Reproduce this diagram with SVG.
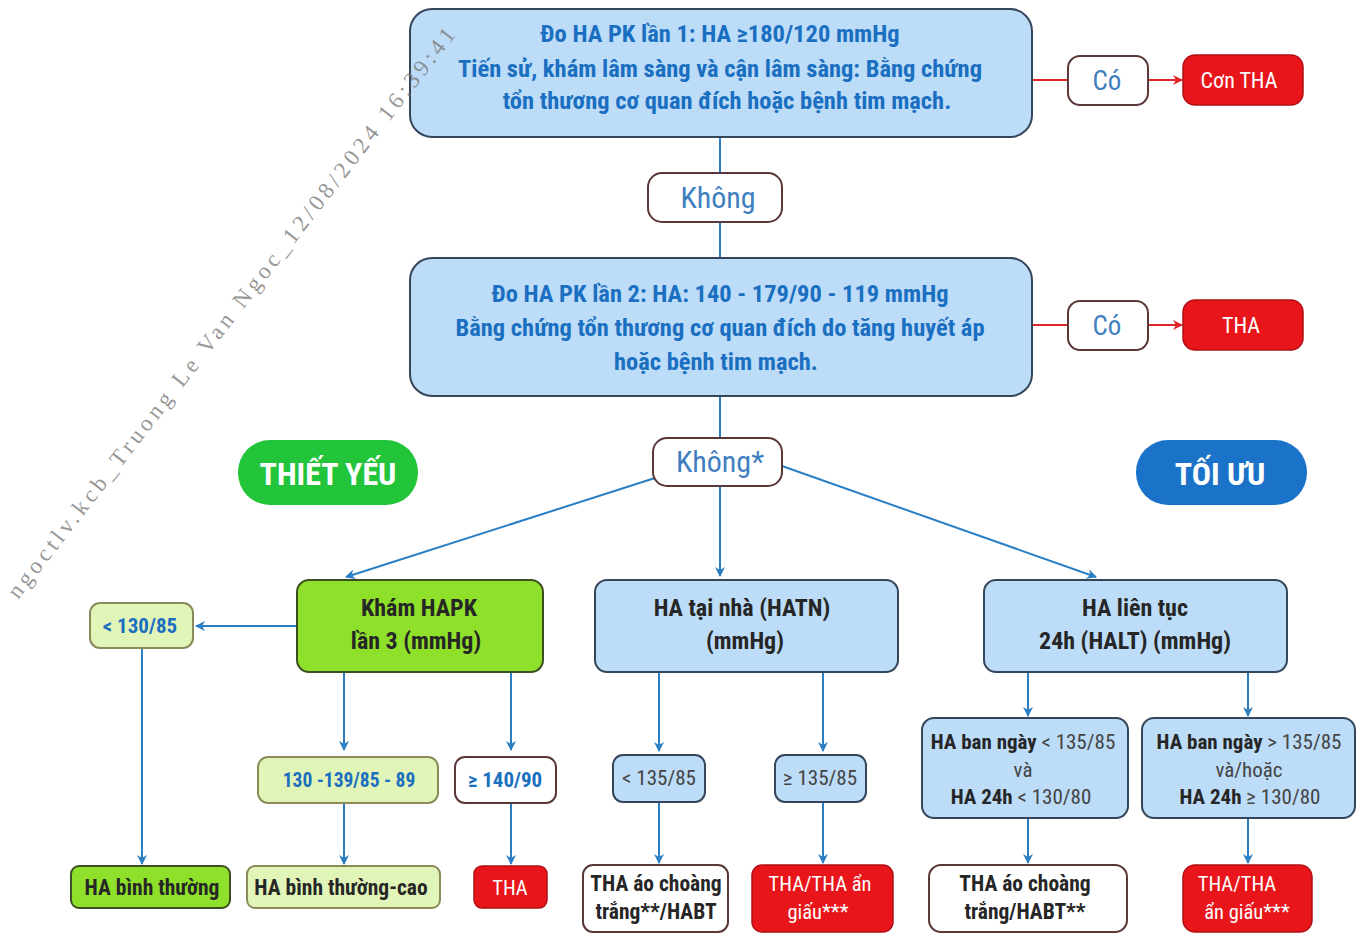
<svg xmlns="http://www.w3.org/2000/svg" width="1364" height="937" viewBox="0 0 1364 937">
<style>
text{font-family:"Liberation Sans Narrow","Roboto Condensed","DejaVu Sans Condensed","Liberation Sans",sans-serif;text-anchor:middle}
.bx{fill:#bcdcf8;stroke:#34465a;stroke-width:2}
.lg{fill:#8ee02a;stroke:#3d4f22;stroke-width:2}
.ly{fill:#e2f5b8;stroke:#8a8a5a;stroke-width:2}
.wh{fill:#fff;stroke:#5a3838;stroke-width:2}
.rd{fill:#e8151b;stroke:#b01015;stroke-width:1.5}
.tb{fill:#1a6fc0;font-weight:bold;font-size:24.5px}
.tbs{fill:#1a6fc0;font-weight:bold;font-size:21px}
.td{fill:#262626;font-weight:bold;font-size:24px}
.tds{fill:#262626;font-weight:bold;font-size:21.5px}
.tw{fill:#fff;font-size:22px}
.tws{fill:#fff;font-size:20.5px}
.tl{fill:#3f7fbf;font-size:30px}
.tc{fill:#3f7fbf;font-size:27px}
.tg{fill:#444;font-size:21px}
.cb{stroke:#2a7fc4;stroke-width:2;fill:none}
.cr{stroke:#e0262b;stroke-width:2;fill:none}
.wm{font-family:"Liberation Serif",serif;text-anchor:start;font-size:23px;fill:#7a7a7a;fill-opacity:0.8}
</style>
<defs>
<marker id="ab" viewBox="0 0 10 10" refX="9" refY="5" markerWidth="10" markerHeight="10" markerUnits="userSpaceOnUse" orient="auto"><path d="M0,0 L10,5 L0,10 L3,5 z" fill="#2a7fc4"/></marker>
<marker id="ar" viewBox="0 0 10 10" refX="9" refY="5" markerWidth="10" markerHeight="10" markerUnits="userSpaceOnUse" orient="auto"><path d="M0,0 L10,5 L0,10 L3,5 z" fill="#e0262b"/></marker>
</defs>
<rect width="1364" height="937" fill="#fff"/>

<g id="connectors">
<path class="cb" d="M720,137 V172"/>
<path class="cb" d="M720,222 V258"/>
<path class="cb" d="M720,396 V437"/>
<path class="cb" d="M720,486 V576" marker-end="url(#ab)"/>
<path class="cb" d="M655,478 L346,577" marker-end="url(#ab)"/>
<path class="cb" d="M782,466 L1096,577" marker-end="url(#ab)"/>
<path class="cr" d="M1032,80 H1068"/>
<path class="cr" d="M1148,80 H1182" marker-end="url(#ar)"/>
<path class="cr" d="M1032,325 H1068"/>
<path class="cr" d="M1148,325 H1182" marker-end="url(#ar)"/>
<path class="cb" d="M297,626 H196" marker-end="url(#ab)"/>
<path class="cb" d="M142,648 V864" marker-end="url(#ab)"/>
<path class="cb" d="M344,672 V750" marker-end="url(#ab)"/>
<path class="cb" d="M511,672 V750" marker-end="url(#ab)"/>
<path class="cb" d="M344,803 V864" marker-end="url(#ab)"/>
<path class="cb" d="M511,803 V864" marker-end="url(#ab)"/>
<path class="cb" d="M659,672 V751" marker-end="url(#ab)"/>
<path class="cb" d="M823,672 V751" marker-end="url(#ab)"/>
<path class="cb" d="M659,802 V863" marker-end="url(#ab)"/>
<path class="cb" d="M823,802 V863" marker-end="url(#ab)"/>
<path class="cb" d="M1028,672 V716" marker-end="url(#ab)"/>
<path class="cb" d="M1248,672 V716" marker-end="url(#ab)"/>
<path class="cb" d="M1028,818 V863" marker-end="url(#ab)"/>
<path class="cb" d="M1248,818 V863" marker-end="url(#ab)"/>
</g>

<g id="n-do1">
<rect class="bx" x="410" y="9" width="622" height="128" rx="22"/>
<text class="tb" x="720" y="42">Đo HA PK lần 1: HA ≥180/120 mmHg</text>
<text class="tb" x="720" y="77">Tiến sử, khám lâm sàng và cận lâm sàng: Bằng chứng</text>
<text class="tb" x="727" y="109">tổn thương cơ quan đích hoặc bệnh tim mạch.</text>
</g>
<g id="n-co1"><rect class="wh" x="1068" y="56" width="80" height="49" rx="12"/><text class="tc" x="1107" y="90">Có</text></g>
<g id="n-conTHA"><rect class="rd" x="1183" y="55" width="120" height="50" rx="12"/><text class="tw" x="1239" y="88">Cơn THA</text></g>

<g id="n-khong1"><rect class="wh" x="648" y="173" width="134" height="49" rx="14"/><text class="tl" x="718" y="208">Không</text></g>

<g id="n-do2">
<rect class="bx" x="410" y="258" width="622" height="138" rx="22"/>
<text class="tb" x="720" y="302">Đo HA PK lần 2: HA: 140 - 179/90 - 119 mmHg</text>
<text class="tb" x="720" y="336">Bằng chứng tổn thương cơ quan đích do tăng huyết áp</text>
<text class="tb" x="716" y="370">hoặc bệnh tim mạch.</text>
</g>
<g id="n-co2"><rect class="wh" x="1068" y="301" width="80" height="49" rx="12"/><text class="tc" x="1107" y="335">Có</text></g>
<g id="n-THA1"><rect class="rd" x="1183" y="300" width="120" height="50" rx="12"/><text class="tw" x="1241" y="333">THA</text></g>

<g id="n-khong2"><rect class="wh" x="653" y="438" width="129" height="48" rx="14"/><text class="tl" x="720" y="472">Không*</text></g>

<g id="n-thietyeu"><rect x="238" y="440" width="180" height="65" rx="32" fill="#22c43a"/><text x="328" y="485" fill="#fff" font-weight="bold" font-size="32">THIẾT YẾU</text></g>
<g id="n-toiuu"><rect x="1136" y="440" width="171" height="65" rx="32" fill="#1a73c8"/><text x="1220" y="485" fill="#fff" font-weight="bold" font-size="32">TỐI ƯU</text></g>

<g id="n-kham3">
<rect class="lg" x="297" y="580" width="246" height="92" rx="12"/>
<text class="td" x="419" y="616">Khám HAPK</text>
<text class="td" x="416" y="649">lần 3 (mmHg)</text>
</g>
<g id="n-lt130"><rect class="ly" x="90" y="603" width="103" height="45" rx="10"/><text class="tbs" x="140" y="633">&lt; 130/85</text></g>
<g id="n-130139"><rect class="ly" x="258" y="757" width="180" height="46" rx="10"/><text class="tbs" x="349" y="787" style="font-size:19.5px">130 -139/85 - 89</text></g>
<g id="n-ge140"><rect class="wh" x="455" y="757" width="101" height="46" rx="10"/><text class="tbs" x="505" y="787">≥ 140/90</text></g>
<g id="n-habt"><rect class="lg" x="71" y="866" width="159" height="42" rx="8"/><text class="tds" x="152" y="895">HA bình thường</text></g>
<g id="n-hacao"><rect class="ly" x="247" y="866" width="193" height="42" rx="8"/><text class="tds" x="341" y="895">HA bình thường-cao</text></g>
<g id="n-THA2"><rect class="rd" x="474" y="866" width="73" height="42" rx="8"/><text class="tws" x="510" y="895">THA</text></g>

<g id="n-hatn">
<rect class="bx" x="595" y="580" width="303" height="92" rx="12"/>
<text class="td" x="742" y="616">HA tại nhà (HATN)</text>
<text class="td" x="745" y="649">(mmHg)</text>
</g>
<g id="n-lt135"><rect class="bx" x="613" y="755" width="92" height="47" rx="10"/><text class="tg" x="659" y="785">&lt; 135/85</text></g>
<g id="n-ge135"><rect class="bx" x="775" y="755" width="91" height="47" rx="10"/><text class="tg" x="820" y="785">≥ 135/85</text></g>
<g id="n-aochoang1"><rect class="wh" x="583" y="865" width="145" height="67" rx="10"/><text class="tds" x="656" y="891">THA áo choàng</text><text class="tds" x="656" y="919">trắng**/HABT</text></g>
<g id="n-angiau1"><rect class="rd" x="752" y="865" width="141" height="67" rx="10"/><text class="tws" x="820" y="891">THA/THA ẩn</text><text class="tws" x="818" y="919">giấu***</text></g>

<g id="n-halt">
<rect class="bx" x="984" y="580" width="303" height="92" rx="12"/>
<text class="td" x="1135" y="616">HA liên tục</text>
<text class="td" x="1135" y="649">24h (HALT) (mmHg)</text>
</g>
<g id="n-bn1">
<rect class="bx" x="922" y="718" width="206" height="100" rx="12"/>
<text class="tg" x="1023" y="749"><tspan font-weight="bold" fill="#262626">HA ban ngày</tspan> &lt; 135/85</text>
<text class="tg" x="1023" y="777">và</text>
<text class="tg" x="1021" y="804"><tspan font-weight="bold" fill="#262626">HA 24h</tspan> &lt; 130/80</text>
</g>
<g id="n-bn2">
<rect class="bx" x="1142" y="718" width="213" height="100" rx="12"/>
<text class="tg" x="1249" y="749"><tspan font-weight="bold" fill="#262626">HA ban ngày</tspan> &gt; 135/85</text>
<text class="tg" x="1249" y="777">và/hoặc</text>
<text class="tg" x="1250" y="804"><tspan font-weight="bold" fill="#262626">HA 24h</tspan> ≥ 130/80</text>
</g>
<g id="n-aochoang2"><rect class="wh" x="929" y="865" width="198" height="67" rx="12"/><text class="tds" x="1025" y="891">THA áo choàng</text><text class="tds" x="1025" y="919">trắng/HABT**</text></g>
<g id="n-angiau2"><rect class="rd" x="1183" y="865" width="129" height="67" rx="12"/><text class="tws" x="1237" y="891">THA/THA</text><text class="tws" x="1247" y="919">ẩn giấu***</text></g>

<text class="wm" x="18" y="600" transform="rotate(-52.2 18 600)" textLength="715" lengthAdjust="spacing">ngoctlv.kcb_Truong Le Van Ngoc_12/08/2024 16:39:41</text>
</svg>
